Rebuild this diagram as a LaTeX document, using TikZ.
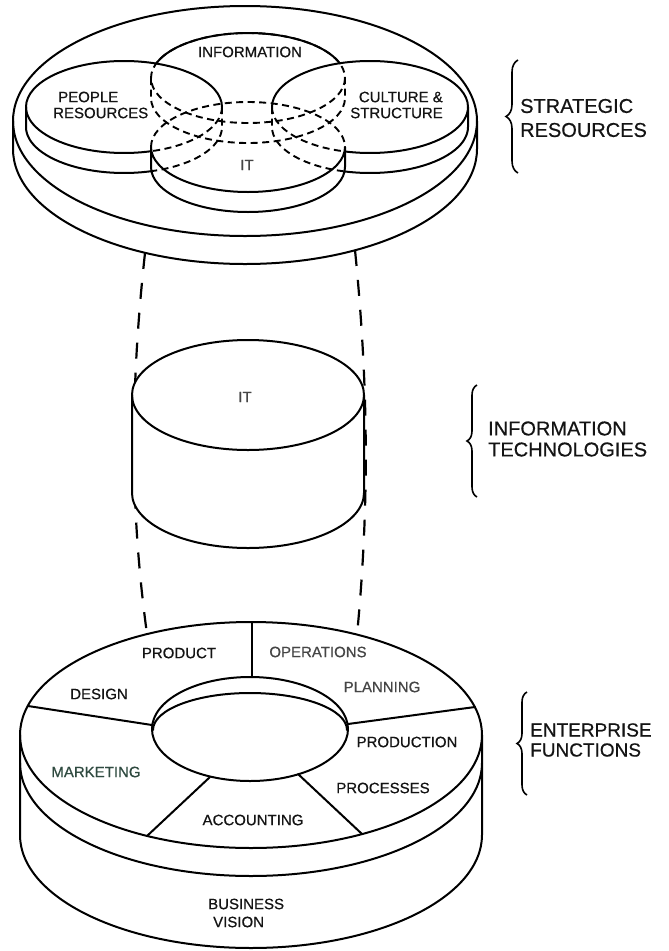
\documentclass[tikz,border=0pt]{standalone}
\usepackage{fontspec}
\setmainfont{Liberation Sans}[FakeBold=0.6]
\usetikzlibrary{decorations.pathreplacing}
\definecolor{ink}{HTML}{141414}
\definecolor{softink}{HTML}{454545}
\definecolor{greenink}{HTML}{2F4A40}
\begin{document}
\begin{tikzpicture}[x=1pt, y=-1pt,
  outline/.style={line width=2pt, line join=round, line cap=round},
  hidden/.style={line width=1.9pt, dash pattern=on 7pt off 4.5pt},
  link/.style={line width=2.2pt, dash pattern=on 16pt off 14pt},
  lbl/.style={font=\fontsize{15}{16}\selectfont, inner sep=0pt, text=ink},
  tag/.style={inner sep=0pt, anchor=west, align=left, text=ink},
  curly/.style={decorate, decoration={brace, amplitude=#1}, line width=1.6pt},
]
\useasboundingbox (0,0) rectangle (669,951);

% ---- dashed links between the three levels ----
\coordinate (srL) at (145,253);
\coordinate (srR) at (355,250);
\coordinate (efL) at (147,634);
\coordinate (efR) at (357,635);
\draw[link] (srL) .. controls (130,390) and (130,510) .. (efL);
\draw[link] (srR) .. controls (369,390) and (369,510) .. (efR);

% ---- enterprise functions ring ----
\filldraw[outline, fill=white] (20,735) arc[start angle=180, end angle=360, x radius=231, y radius=113]
  -- (482,835) arc[start angle=0, end angle=180, x radius=231, y radius=113] -- cycle;
\draw[outline] (20,735) arc[start angle=180, end angle=0, x radius=231, y radius=113];
\draw[outline] (20,763) arc[start angle=180, end angle=0, x radius=231, y radius=113];
\draw[outline] (250,729) ellipse[x radius=98, y radius=52];
\draw[outline] (153,730) arc[start angle=180, end angle=360, x radius=97, y radius=37];
% segment dividers
\draw[outline] (252,622) -- (252,677);
\draw[outline] (28,706) -- (152,725);
\draw[outline] (475,707) -- (348,724);
\draw[outline] (210,777) -- (147,836);
\draw[outline] (298,774) -- (362,834);

\node[lbl] (product) at (179,653) {PRODUCT};
\node[lbl, text=softink] (operations) at (318,652) {OPERATIONS};
\node[lbl] (design) at (99,694) {DESIGN};
\node[lbl, text=softink] (planning) at (382,687) {PLANNING};
\node[lbl, text=greenink] (marketing) at (96,772) {MARKETING};
\node[lbl] (production) at (407,742) {PRODUCTION};
\node[lbl] (processes) at (383,788) {PROCESSES};
\node[lbl] (accounting) at (253,820) {ACCOUNTING};
\node[lbl, align=left, anchor=west, font=\fontsize{15}{18}\selectfont] (vision) at (208,913)
  {BUSINESS\\\hspace{5pt}VISION};

% ---- information technologies cylinder ----
\filldraw[outline, fill=white] (132,395) arc[start angle=180, end angle=360, x radius=116, y radius=55]
  -- (364,493) arc[start angle=0, end angle=180, x radius=116, y radius=55] -- cycle;
\draw[outline] (132,395) arc[start angle=180, end angle=0, x radius=116, y radius=55];
\node[lbl, text=softink] (itmid) at (245,397) {IT};

% ---- strategic resources platter ----
\draw[outline] (13,121) arc[start angle=180, end angle=360, x radius=232, y radius=115]
  -- (477,149) arc[start angle=0, end angle=180, x radius=232, y radius=115] -- cycle;
\draw[outline] (13,121) arc[start angle=180, end angle=0, x radius=232, y radius=115];

% hidden edges of the four overlapping discs
\draw[hidden] (248,78) ellipse[x radius=97, y radius=45];
\draw[hidden] (151,78) -- (151,98) arc[start angle=180, end angle=0, x radius=97, y radius=45] -- (345,78);
\draw[hidden] (151,147) arc[start angle=180, end angle=360, x radius=97, y radius=45];
\draw[hidden] (222,107) -- (222,127) arc[start angle=0, end angle=74, x radius=98, y radius=46];
\draw[hidden] (222,107) arc[start angle=0, end angle=74, x radius=98, y radius=46];
\draw[hidden] (272,107) -- (272,127) arc[start angle=180, end angle=104.8, x radius=98, y radius=46];
\draw[hidden] (272,107) arc[start angle=180, end angle=104.8, x radius=98, y radius=46];

% visible edges
\draw[outline] (222,107) arc[start angle=360, end angle=180, x radius=98, y radius=46]
  -- (26,127) arc[start angle=180, end angle=74, x radius=98, y radius=46];
\draw[outline] (26,107) arc[start angle=180, end angle=74, x radius=98, y radius=46];
\draw[outline] (272,107) arc[start angle=180, end angle=360, x radius=98, y radius=46]
  -- (468,127) arc[start angle=0, end angle=104.8, x radius=98, y radius=46];
\draw[outline] (468,107) arc[start angle=0, end angle=104.8, x radius=98, y radius=46];
\draw[outline] (156.2,63.5) arc[start angle=198.8, end angle=341.2, x radius=97, y radius=45];
\draw[outline] (151,147) arc[start angle=180, end angle=0, x radius=97, y radius=45]
  -- (345,167) arc[start angle=0, end angle=180, x radius=97, y radius=45] -- cycle;

\node[lbl] (information) at (250,52) {INFORMATION};
\node[lbl, align=left, anchor=west] (people) at (53,105) {\hspace{5pt}PEOPLE\\RESOURCES};
\node[lbl, align=right, anchor=east] (culture) at (443,105) {CULTURE \&\\STRUCTURE};
\node[lbl, text=softink] (ittop) at (247,165) {IT};

% ---- side captions ----
\draw[curly=12pt] (518,173) -- (518,60);
\node[tag, font=\fontsize{20}{24}\selectfont] (strategic) at (520,118) {STRATEGIC\\RESOURCES};
\draw[curly=10pt] (477,497) -- (477,385);
\node[tag, font=\fontsize{20}{21}\selectfont] (infotech) at (488,439) {INFORMATION\\TECHNOLOGIES};
\draw[curly=10pt] (527,795) -- (527,692);
\node[tag, font=\fontsize{19}{20}\selectfont] (enterprise) at (530,740) {ENTERPRISE\\FUNCTIONS};
\end{tikzpicture}
\end{document}
